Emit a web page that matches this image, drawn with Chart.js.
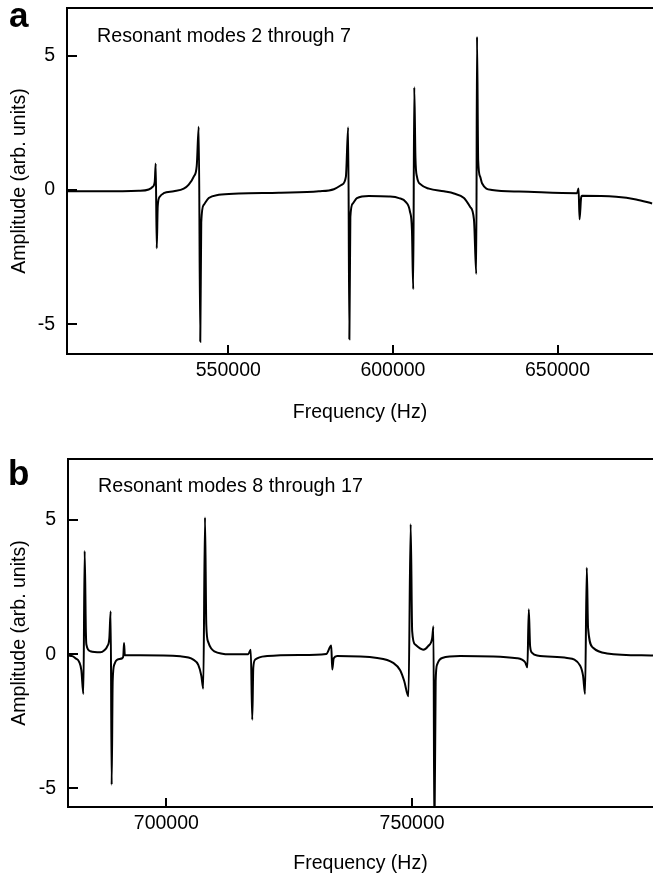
<!DOCTYPE html>
<html>
<head>
<meta charset="utf-8">
<script src="https://cdn.jsdelivr.net/npm/chart.js@4.4.0/dist/chart.umd.min.js"></script>
<style>
  body { margin: 0; background: #fff; width: 653px; height: 881px; position: relative; overflow: hidden; font-family: "Liberation Sans", Arial, sans-serif; }
  .panel { position: absolute; left: 0; width: 653px; }
  .panel canvas { display: block; }
  .letter { position: absolute; font-weight: bold; font-size: 35px; line-height: 35px; color: #000; }
  .note { position: absolute; font-size: 19.7px; line-height: 19.7px; color: #000; white-space: nowrap; }
</style>
</head>
<body>
<div class="panel" style="top:0;height:440px"><canvas id="chartA" width="653" height="440"></canvas></div>
<div class="panel" style="top:440px;height:441px"><canvas id="chartB" width="653" height="441"></canvas></div>
<div class="letter" style="left:9px;top:-3px">a</div>
<div class="letter" style="left:8px;top:455px">b</div>
<div class="note" style="left:97px;top:26px">Resonant modes 2 through 7</div>
<div class="note" style="left:98px;top:476px">Resonant modes 8 through 17</div>
<script>
// panel a - resonant modes 2 through 7 (frequency in Hz, amplitude arb. units)
const freqA = [501000, 511000, 522780, 525820, 527040, 527650, 527950, 528260, 528560, 529170,
    530380, 533420, 536460, 537980, 539500, 540410, 541020, 541480, 541780, 542540,
    544060, 547100, 553180, 565340, 577500, 582060, 584500, 585720, 586410, 586770,
    587070, 587840, 589060, 592700, 598780, 601820, 603950, 605170, 605780, 606170,
    606480, 606840, 607300, 608510, 610940, 615500, 618540, 621580, 623410, 624620,
    625320, 625540, 625900, 626500, 627060, 630100, 638300, 655940, 656390, 656690,
    657150, 657450, 667790, 673870, 678740];
const ampA = [-0.05, -0.05, -0.03, 0.02, 0.12, 0.3, 0.99, -2.17, -0.6, -0.25,
    -0.12, -0.05, 0.05, 0.2, 0.5, 0.9, 2.35, -5.64, -1.2, -0.55,
    -0.3, -0.18, -0.13, -0.1, -0.05, 0.03, 0.2, 0.5, 2.33, -5.55,
    -1.0, -0.5, -0.3, -0.22, -0.24, -0.3, -0.45, -0.8, -1.5, -3.69,
    3.82, 1.2, 0.5, 0.2, 0.05, -0.05, -0.13, -0.3, -0.62, -1.1,
    -3.12, 5.7, 1.1, 0.5, 0.25, 0.0, -0.06, -0.12, 0.06, -1.09,
    -0.3, -0.21, -0.25, -0.35, -0.5];

// panel b - resonant modes 8 through 17
const freqB = [680080, 680890, 681500, 682310, 682720, 683130, 683390, 683640, 683740, 684550,
    686580, 687400, 688010, 688410, 688680, 688880, 689090, 689430, 690040, 691050,
    691260, 691400, 691560, 694710, 702850, 705490, 706500, 707120, 707520, 707870,
    708130, 708530, 709100, 709760, 713010, 716670, 717180, 717480, 717690, 718090, 720530,
    727240, 732530, 733550, 733750, 734050, 734760, 742900, 746150, 747570, 748390,
    749260, 749710, 750010, 750620, 752250, 753260, 754080, 754340, 754530, 754790,
    755100, 756110, 759770, 771360, 772990, 773450, 773730, 774000, 774410, 775420,
    781520, 784160, 784770, 785180, 785530, 785790, 786810, 789650, 799000];
const ampB = [-0.05, -0.07, -0.15, -0.3, -0.6, -1.48, 3.84, 0.8, 0.36, 0.11,
    0.07, 0.15, 0.3, 0.6, 1.6, -4.86, -1.0, -0.38, -0.2, -0.15,
    -0.05, 0.42, -0.04, -0.04, -0.08, -0.2, -0.4, -0.8, -1.28, 5.09,
    1.1, 0.45, 0.22, 0.11, 0.0, 0.0, 0.17, -2.44, -0.5, -0.2, -0.07,
    -0.03, 0.01, 0.32, -0.57, -0.15, -0.07, -0.14, -0.32, -0.6, -1.0,
    -1.57, 4.84, 0.86, 0.36, 0.17, 0.3, 0.6, 1.04, -7.0, -1.0,
    -0.38, -0.14, -0.07, -0.15, -0.3, -0.49, 1.67, 0.3, 0.05, -0.05,
    -0.14, -0.42, -0.8, -1.48, 3.22, 0.98, 0.24, 0.03, -0.05];

const xTicksA = [550000, 600000, 650000];
const xTicksB = [700000, 750000];
const yTicks = [-5, 0, 5];

Chart.defaults.font.family = '"Liberation Sans", Arial, sans-serif';
Chart.defaults.font.size = 19.5;
Chart.defaults.color = '#000';

// box on left, top and bottom with tick marks pointing inward
const frame = {
    id: 'frame',
    afterDraw(chart) {
        const { ctx, chartArea: a, scales } = chart;
        ctx.save();
        ctx.strokeStyle = '#000';
        ctx.lineWidth = 2;
        ctx.beginPath();
        ctx.moveTo(chart.width + 2, a.top);
        ctx.lineTo(a.left, a.top);
        ctx.lineTo(a.left, a.bottom);
        ctx.lineTo(chart.width + 2, a.bottom);
        ctx.stroke();
        ctx.beginPath();
        scales.x.ticks.forEach(t => {
            const px = Math.round(scales.x.getPixelForValue(t.value));
            ctx.moveTo(px, a.bottom);
            ctx.lineTo(px, a.bottom - 9);
        });
        scales.y.ticks.forEach(t => {
            const py = Math.round(scales.y.getPixelForValue(t.value));
            ctx.moveTo(a.left, py);
            ctx.lineTo(a.left + 10, py);
        });
        ctx.stroke();
        ctx.restore();
    }
};

function makeChart(id, freq, amp, xTicks, xRange, yRange, box) {
    const ctx = document.getElementById(id).getContext('2d');
    return new Chart(ctx, {
        type: 'line',
        data: {
            datasets: [{
                data: freq.map((f, i) => ({ x: f, y: amp[i] })),
                borderColor: '#000',
                borderWidth: 2,
                pointRadius: 0,
                fill: false,
                cubicInterpolationMode: 'monotone'
            }]
        },
        options: {
            responsive: false,
            animation: false,
            events: [],
            layout: { padding: { top: box.top, left: 0, right: 0, bottom: 0 } },
            plugins: { legend: { display: false }, tooltip: { enabled: false } },
            scales: {
                x: {
                    type: 'linear',
                    min: xRange[0],
                    max: xRange[1],
                    afterBuildTicks: s => { s.ticks = xTicks.map(v => ({ value: v })); },
                    afterFit: s => { s.height = box.xHeight; s.paddingLeft = 0; s.paddingRight = 0; },
                    grid: { display: false, drawTicks: false },
                    border: { display: false },
                    ticks: { padding: 5, maxRotation: 0, autoSkip: false, callback: v => String(v) },
                    title: { display: true, text: 'Frequency (Hz)', padding: { top: 0, bottom: box.titleBottom } }
                },
                y: {
                    min: yRange[0],
                    max: yRange[1],
                    afterBuildTicks: s => { s.ticks = yTicks.map(v => ({ value: v })); },
                    afterFit: s => { s.width = box.left; s.paddingTop = 0; s.paddingBottom = 0; },
                    grid: { display: false, drawTicks: false },
                    border: { display: false },
                    ticks: { padding: 12, callback: v => String(v) },
                    title: { display: true, text: 'Amplitude (arb. units)', padding: { top: 8, bottom: 0 } }
                }
            }
        },
        plugins: [frame]
    });
}

makeChart('chartA', freqA, ampA, xTicksA, [501000, 679000], [-6.1, 6.77],
    { top: 8, left: 67, xHeight: 86, titleBottom: 16 });
makeChart('chartB', freqB, ampB, xTicksB, [680000, 799000], [-5.69, 7.27],
    { top: 19, left: 68, xHeight: 74, titleBottom: 6 });
</script>
</body>
</html>
